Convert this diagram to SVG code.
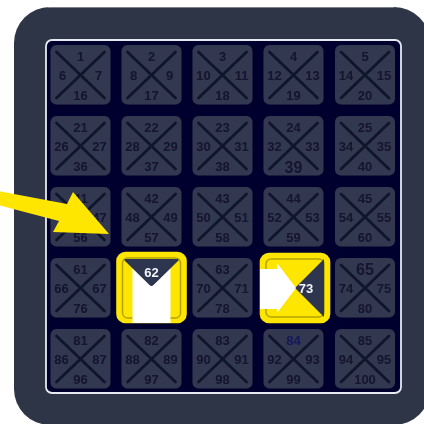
<svg xmlns="http://www.w3.org/2000/svg" width="424" height="424" viewBox="0 0 424 424">
<defs>
<style>
text{font-family:"Liberation Sans",Arial,sans-serif;font-weight:700;font-size:13px;fill:#12142e;text-anchor:middle}
.big{font-size:16px}
.sel{fill:#f2f4f8;font-size:13px}
.box{fill:#33374f}
.x{stroke:#10122c;stroke-width:2.7;stroke-linecap:round;fill:none}
.frame{fill:#ffe600;stroke:#ffe600;stroke-width:2.6}
.inner{fill:none;stroke:#b5a400;stroke-width:1.5}
</style>
<filter id="soft" x="0" y="0" width="100%" height="100%"><feGaussianBlur stdDeviation="0.45"/></filter>
<g id="tile"><rect class="box" x="-30" y="-30" width="60" height="59.5" rx="6"/><path class="x" d="M-24-23L24 23M-24 23L24-23"/></g>
</defs>
<rect width="424" height="424" fill="#ffffff"/>
<g filter="url(#soft)">
<rect x="14" y="7" width="416" height="418" rx="36" fill="#2e3547"/>
<path d="M48 7H394" stroke="#c9ccd6" stroke-width="1" fill="none"/>
<rect x="46" y="40" width="355" height="353" rx="6" fill="#05052e" stroke="#e6e9f0" stroke-width="1.8"/>

<g id="n1" transform="translate(80.5 75)"><use href="#tile"/><text y="-14">1</text><text x="-18" y="4.5">6</text><text x="18" y="4.5">7</text><text y="24.5">16</text></g>
<g id="n2" transform="translate(151.5 75)"><use href="#tile"/><text y="-14">2</text><text x="-18" y="4.5">8</text><text x="18" y="4.5">9</text><text y="24.5">17</text></g>
<g id="n3" transform="translate(222.5 75)"><use href="#tile"/><text y="-14">3</text><text x="-19" y="4.5">10</text><text x="19" y="4.5">11</text><text y="24.5">18</text></g>
<g id="n4" transform="translate(293.5 75)"><use href="#tile"/><text y="-14">4</text><text x="-19" y="4.5">12</text><text x="19" y="4.5">13</text><text y="24.5">19</text></g>
<g id="n5" transform="translate(365 75)"><use href="#tile"/><text y="-14">5</text><text x="-19" y="4.5">14</text><text x="19" y="4.5">15</text><text y="24.5">20</text></g>

<g id="n21" transform="translate(80.5 146)"><use href="#tile"/><text y="-14">21</text><text x="-19" y="4.5">26</text><text x="19" y="4.5">27</text><text y="25">36</text></g>
<g id="n22" transform="translate(151.5 146)"><use href="#tile"/><text y="-14">22</text><text x="-19" y="4.5">28</text><text x="19" y="4.5">29</text><text y="25">37</text></g>
<g id="n23" transform="translate(222.5 146)"><use href="#tile"/><text y="-14">23</text><text x="-19" y="4.5">30</text><text x="19" y="4.5">31</text><text y="25">38</text></g>
<g id="n24" transform="translate(293.5 146)"><use href="#tile"/><text y="-14">24</text><text x="-19" y="4.5">32</text><text x="19" y="4.5">33</text><text class="big" y="27">39</text></g>
<g id="n25" transform="translate(365 146)"><use href="#tile"/><text y="-14">25</text><text x="-19" y="4.5">34</text><text x="19" y="4.5">35</text><text y="25">40</text></g>

<g id="n41" transform="translate(80.5 217)"><use href="#tile"/><text y="-14">41</text><text x="-19" y="4.5">46</text><text x="19" y="4.5">47</text><text y="25">56</text></g>
<g id="n42" transform="translate(151.5 217)"><use href="#tile"/><text y="-14">42</text><text x="-19" y="4.5">48</text><text x="19" y="4.5">49</text><text y="25">57</text></g>
<g id="n43" transform="translate(222.5 217)"><use href="#tile"/><text y="-14">43</text><text x="-19" y="4.5">50</text><text x="19" y="4.5">51</text><text y="25">58</text></g>
<g id="n44" transform="translate(293.5 217)"><use href="#tile"/><text y="-14">44</text><text x="-19" y="4.5">52</text><text x="19" y="4.5">53</text><text y="25">59</text></g>
<g id="n45" transform="translate(365 217)"><use href="#tile"/><text y="-14">45</text><text x="-19" y="4.5">54</text><text x="19" y="4.5">55</text><text y="25">60</text></g>

<g id="n61" transform="translate(80.5 288)"><use href="#tile"/><text y="-14">61</text><text x="-19" y="4.5">66</text><text x="19" y="4.5">67</text><text y="25">76</text></g>
<g id="n62" transform="translate(151.5 288)">
<rect class="frame" x="-34" y="-35" width="68" height="69" rx="8"/>
<rect class="inner" x="-29" y="-30" width="58" height="60" rx="5"/>
<path d="M-19-24H19V35H-19Z" fill="#ffffff"/>
<path d="M-26-29H26Q28-29 26.500-27L2-3Q0-1-2-3L-26.500-27Q-28-29-26-29Z" fill="#2e3450"/>
<text class="sel" y="-11">62</text></g>
<g id="n63" transform="translate(222.5 288)"><use href="#tile"/><text y="-14">63</text><text x="-19" y="4.5">70</text><text x="19" y="4.5">71</text><text y="25">78</text></g>
<g id="n73" transform="translate(295 288)">
<rect class="frame" x="-34" y="-34" width="68" height="68" rx="8"/>
<rect class="inner" x="-29" y="-29" width="58" height="58" rx="5"/>
<path d="M-35-19H-18V-25L1 0L-18 25V21H-35Z" fill="#ffffff"/>
<path d="M29-29V29L1 1Q0 0 1-1Z" fill="#2e3450"/>
<text class="sel" x="11" y="4.500">73</text></g>
<g id="n65" transform="translate(365 288)"><use href="#tile"/><text class="big" y="-13">65</text><text x="-19" y="4.5">74</text><text x="19" y="4.5">75</text><text y="25">80</text></g>

<g id="n81" transform="translate(80.5 359)"><use href="#tile"/><text y="-14">81</text><text x="-19" y="4.5">86</text><text x="19" y="4.5">87</text><text y="25">96</text></g>
<g id="n82" transform="translate(151.5 359)"><use href="#tile"/><text y="-14">82</text><text x="-19" y="4.5">88</text><text x="19" y="4.5">89</text><text y="25">97</text></g>
<g id="n83" transform="translate(222.5 359)"><use href="#tile"/><text y="-14">83</text><text x="-19" y="4.5">90</text><text x="19" y="4.5">91</text><text y="25">98</text></g>
<g id="n84" transform="translate(293.5 359)"><use href="#tile"/><text y="-14" style="fill:#15185a">84</text><text x="-19" y="4.5">92</text><text x="19" y="4.5">93</text><text y="25">99</text></g>
<g id="n85" transform="translate(365 359)"><use href="#tile"/><text y="-14">85</text><text x="-19" y="4.5">94</text><text x="19" y="4.5">95</text><text y="25">100</text></g>

<g id="connectors">
<path d="M-2 191L67 204L73 192L109 234L53 232L59 221L-2 205Z" fill="#ffe600"/>
</g>
</g>
</svg>
